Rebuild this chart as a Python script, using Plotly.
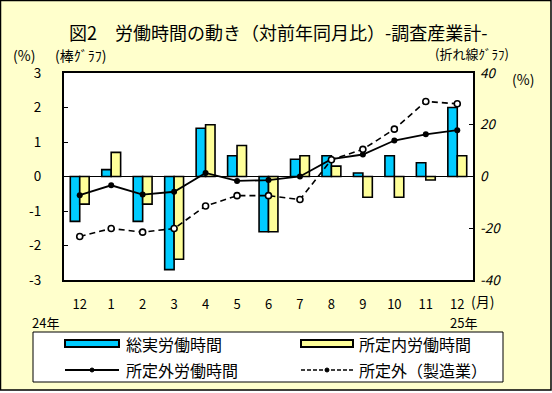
import plotly.graph_objects as go

# ---- data ----
months = ["12", "1", "2", "3", "4", "5", "6", "7", "8", "9", "10", "11", "12"]
total_hours = [-1.3, 0.2, -1.3, -2.7, 1.4, 0.6, -1.6, 0.5, 0.6, 0.1, 0.6, 0.4, 2.0]
scheduled_hours = [-0.8, 0.7, -0.8, -2.4, 1.5, 0.9, -1.6, 0.6, 0.3, -0.6, -0.6, -0.1, 0.6]
overtime_hours = [-7.2, -3.4, -7.0, -5.9, 1.4, -1.7, -1.4, 0.0, 6.7, 8.5, 13.9, 16.3, 17.9]
overtime_mfg = [-23.2, -20.1, -21.5, -20.1, -11.4, -7.4, -7.4, -8.9, 6.5, 10.5, 18.3, 29.0, 28.1]
left_ticks = [-3, -2, -1, 0, 1, 2, 3]
left_labels = ["-3", "-2", "-1", "0", "1", "2", "3"]
right_ticks = [-40, -20, 0, 20, 40]
right_labels = ["-40", "-20", "0", "20", "40"]

W, H = 552, 393
L, R, T, B = 64, 473, 73, 280
FONT = "Noto Sans CJK JP, Noto Sans, sans-serif"
BG = "#FFFFCC"
BLUE = "#00CCFF"
YEL = "#FFFF99"


def px(x):
    return (x - L) / (R - L)


def py(y):
    return (B - y) / (B - T)


xs = list(range(len(months)))

fig = go.Figure()
fig.add_trace(go.Bar(x=xs, y=total_hours, name="総実労働時間",
                     marker=dict(color=BLUE, line=dict(color="black", width=1.6)),
                     showlegend=False))
fig.add_trace(go.Bar(x=xs, y=scheduled_hours, name="所定内労働時間",
                     marker=dict(color=YEL, line=dict(color="black", width=1.6)),
                     showlegend=False))
fig.add_trace(go.Scatter(x=xs, y=overtime_hours, name="所定外労働時間", yaxis="y2",
                         mode="lines+markers",
                         line=dict(color="black", width=1.8),
                         marker=dict(color="black", size=6, symbol="circle"),
                         showlegend=False))
fig.add_trace(go.Scatter(x=xs, y=overtime_mfg, name="所定外（製造業）", yaxis="y2",
                         mode="lines+markers",
                         line=dict(color="black", width=1.6, dash="6px,4px"),
                         marker=dict(color="white", size=6, symbol="circle",
                                     line=dict(color="black", width=1.6)),
                         showlegend=False))

shapes = []
# outer pale-yellow panel with border
shapes.append(dict(type="rect", xref="paper", yref="paper", layer="below",
                   x0=px(0.5), x1=px(551), y0=py(0.5), y1=py(390),
                   fillcolor=BG, line=dict(color="black", width=1.5)))
# plot area white
shapes.append(dict(type="rect", xref="paper", yref="paper", layer="below",
                   x0=0, x1=1, y0=0, y1=1, fillcolor="white", line=dict(width=0)))
# zero line
shapes.append(dict(type="line", xref="paper", yref="y", x0=0, x1=1, y0=0, y1=0,
                   line=dict(color="black", width=1), layer="below"))
# legend box
shapes.append(dict(type="rect", xref="paper", yref="paper",
                   x0=px(33), x1=px(503), y0=py(332), y1=py(382),
                   fillcolor="white", line=dict(color="black", width=1)))
# legend bar symbols
shapes.append(dict(type="rect", xref="paper", yref="paper",
                   x0=px(65), x1=px(119), y0=py(340), y1=py(347),
                   fillcolor=BLUE, line=dict(color="black", width=2)))
shapes.append(dict(type="rect", xref="paper", yref="paper",
                   x0=px(301), x1=px(353), y0=py(340), y1=py(347),
                   fillcolor=YEL, line=dict(color="black", width=2)))
# legend line symbols
shapes.append(dict(type="line", xref="paper", yref="paper",
                   x0=px(65), x1=px(119), y0=py(370), y1=py(370),
                   line=dict(color="black", width=1.8)))
shapes.append(dict(type="line", xref="paper", yref="paper",
                   x0=px(301), x1=px(353), y0=py(370), y1=py(370),
                   line=dict(color="black", width=1.5, dash="4px,2px")))
for cx in (92, 327):
    shapes.append(dict(type="circle", xref="paper", yref="paper",
                       x0=px(cx - 2), x1=px(cx + 2), y0=py(368), y1=py(372),
                       fillcolor="black", line=dict(color="black", width=1)))

ann = []


def txt(text, x, y, size=14, xanchor="center", **kw):
    ann.append(dict(text=text, x=px(x), y=py(y), xref="paper", yref="paper",
                    showarrow=False, xanchor=xanchor, yanchor="middle",
                    borderpad=0,
                    font=dict(family=FONT, size=size, color="black", **kw)))


txt("図2　労働時間の動き（対前年同月比）-調査産業計-", 278, 32, size=18)
txt("(%)", 12, 55, size=14, xanchor="left")
txt("(棒ｸﾞﾗﾌ)", 54, 55, size=14, xanchor="left")
txt("(折れ線ｸﾞﾗﾌ)", 510, 53, size=13, xanchor="right")
txt("(%)", 511, 79, size=14, xanchor="left")
txt("(月)", 470, 301, size=14, xanchor="left")
txt("24年", 31, 322, size=13, xanchor="left")
txt("25年", 449, 322, size=13, xanchor="left")
txt("総実労働時間", 125, 344, size=16, xanchor="left")
txt("所定内労働時間", 358, 344, size=16, xanchor="left")
txt("所定外労働時間", 125, 370, size=16, xanchor="left")
txt("所定外（製造業）", 358, 370, size=16, xanchor="left")

fig.update_layout(
    width=W, height=H,
    margin=dict(l=L, r=W - R, t=T, b=H - B, pad=0),
    paper_bgcolor="white", plot_bgcolor="white",
    barmode="group", bargap=0.4, bargroupgap=0,
    font=dict(family=FONT, size=14, color="black"),
    xaxis=dict(range=[-0.5, len(months) - 0.5], tickvals=xs, ticktext=months,
               showline=True, linecolor="black", linewidth=2, mirror=True,
               ticks="", showgrid=False, zeroline=False,
               ticklabelstandoff=11, tickfont=dict(size=13)),
    yaxis=dict(range=[-3, 3], tickvals=left_ticks, ticktext=left_labels,
               showgrid=False, zeroline=False,
               showline=True, linecolor="black", linewidth=2, mirror=True,
               ticks="inside", ticklen=4, tickcolor="black", tickwidth=1,
               ticklabelstandoff=18, tickfont=dict(size=13.5)),
    yaxis2=dict(range=[-40, 40], tickvals=right_ticks, ticktext=right_labels,
                overlaying="y", side="right",
                showgrid=False, zeroline=False, showline=False,
                ticks="inside", ticklen=4, tickcolor="black", tickwidth=1,
                ticklabelstandoff=6, tickfont=dict(size=13.5, style="italic")),
    shapes=shapes, annotations=ann,
)

fig.write_html("out.html", config={"displayModeBar": False},
               post_script="document.body.style.margin='0';")
